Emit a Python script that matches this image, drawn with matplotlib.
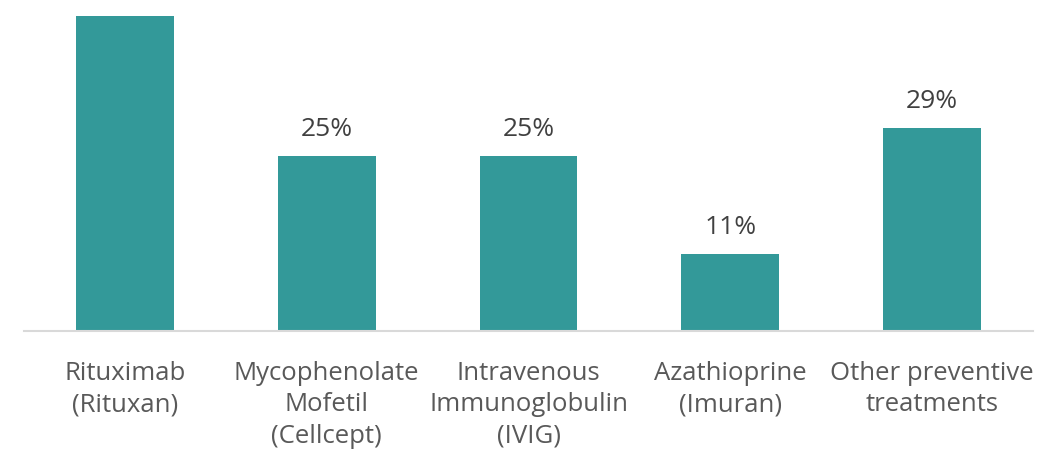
import matplotlib
matplotlib.use("Agg")
import matplotlib.pyplot as plt

categories = ["Rituximab\n(Rituxan)", "Mycophenolate\nMofetil\n(Cellcept)",
              "Intravenous\nImmunoglobulin\n(IVIG)", "Azathioprine\n(Imuran)",
              "Other preventive\ntreatments"]
values = [45, 25, 25, 11, 29]
labels = [None, "25%", "25%", "11%", "29%"]

plt.rcParams['font.family'] = ['Open Sans', 'DejaVu Sans']
fig = plt.figure(figsize=(10.59, 4.56), dpi=100)
ax = fig.add_axes([24/1059, 124/456, 1009/1059, (456-124-17)/456])
x = range(len(categories))
bars = ax.bar(x, values, width=0.485, color="#339999")
ax.set_xlim(-0.5, len(categories) - 0.5)
ax.set_ylim(0, 45)
for b, lab in zip(bars, labels):
    if lab is None:
        continue
    ax.text(b.get_x() + b.get_width()/2, b.get_height() + 3.0, lab,
            ha="center", va="baseline", fontsize=19, color="#404040")
ax.set_xticks(list(x))
ax.set_xticklabels(categories, fontsize=18.5, color="#595959", linespacing=1.33, va="top")
ax.tick_params(axis="x", length=0, pad=21)
ax.set_yticks([])
for s in ["top", "right", "left"]:
    ax.spines[s].set_visible(False)
ax.spines["bottom"].set_color("#d9d9d9")
ax.spines["bottom"].set_linewidth(1.5)
fig.savefig("out.png", dpi=100)
